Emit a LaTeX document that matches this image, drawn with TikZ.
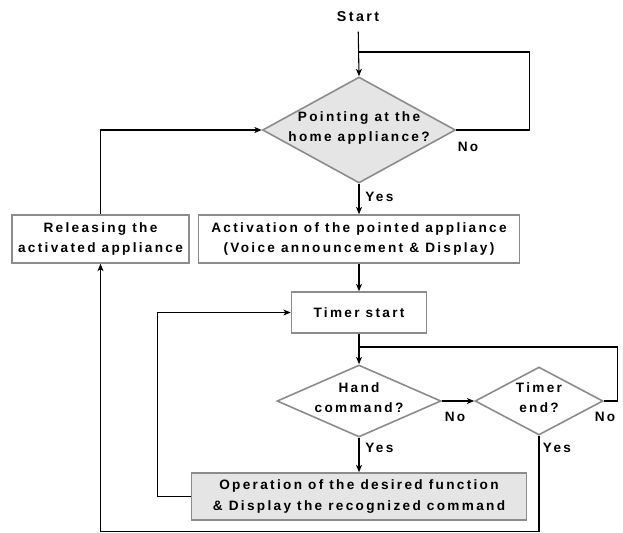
\documentclass[tikz,border=0pt]{standalone}
\usepackage{fontspec}
\newfontfamily\chartfont[LetterSpace=17]{Liberation Sans}
\usetikzlibrary{shapes.geometric,arrows.meta}

\tikzset{
  txt/.style={font=\chartfont\bfseries\fontsize{10.2}{15.5}\selectfont, align=center, inner sep=0pt, text=black},
  stepbox/.style={txt, draw=black!45, line width=1.2pt, fill=white},
  graybox/.style={stepbox, fill=gray!20},
  decision/.style={diamond, draw=black!45, line width=1.2pt, fill=gray!20, inner sep=0pt},
  opendecision/.style={decision, fill=white},
  wire/.style={draw=black, line width=0.8pt},
  flow/.style={wire, -{Stealth[length=5.5pt,width=4.5pt,inset=1.5pt]}},
}

\begin{document}
\begin{tikzpicture}[x=0.75pt,y=-0.75pt]
\useasboundingbox (0,0) rectangle (623,532);

% nodes
\node[txt, font=\chartfont\bfseries\fontsize{10.7}{13}\selectfont] (start) at (358,17) {Start};

\node[decision, minimum width=193*0.75pt, minimum height=106*0.75pt] (d1) at (359,130) {};
\node[txt] (d1t) at (359,128) {Pointing at the\\home appliance?};

\node[stepbox, minimum width=177*0.75pt, minimum height=48*0.75pt] (rel) at (100.5,239) {Releasing the\\activated appliance};
\node[stepbox, minimum width=321*0.75pt, minimum height=48*0.75pt] (act) at (359,239) {Activation of the pointed appliance\\(Voice announcement \& Display)};

\node[stepbox, minimum width=135*0.75pt, minimum height=41*0.75pt] (tmr) at (359,312.5) {Timer start};

\node[opendecision, minimum width=164*0.75pt, minimum height=72*0.75pt] (hand) at (359,401) {};
\node[txt] (handt) at (359,397.5) {Hand\\command?};

\node[opendecision, minimum width=128*0.75pt, minimum height=68*0.75pt] (tend) at (539,401) {};
\node[txt] (tendt) at (539,397.5) {Timer\\end?};

\node[graybox, minimum width=335*0.75pt, minimum height=47*0.75pt] (op) at (359,496.5) {Operation of the desired function\\\& Display the recognized command};

% branch labels
\node[txt] (no1) at (468,147) {No};
\node[txt, anchor=west] (yes1) at (365,197) {Yes};
\node[txt] (no2) at (455,417) {No};
\node[txt] (no3) at (605,417) {No};
\node[txt, anchor=west] (yes2) at (365,448) {Yes};
\node[txt] (yes3) at (557,448) {Yes};

% junctions on the vertical main line
\coordinate (j1) at (359,52);
\coordinate (j2) at (359,347);

% connectors
\draw[flow, shorten <=7pt] (start) -- (d1.north);
\draw[wire] (d1.east) -- ++(73,0) |- (j1);
\draw[flow] (d1.south) -- (act.north);
\draw[flow] (rel.north) |- (d1.west);
\draw[flow] (act.south) -- (tmr.north);
\draw[flow] (tmr.south) -- (hand.north);
\draw[wire] (tend.east) -- ++(14,0) |- (j2);
\draw[flow] (hand.east) -- (tend.west);
\draw[flow] (hand.south) -- (op.north);
\draw[flow] (op.west) -- ++(-33.5,0) |- (tmr.west);
\draw[flow] (tend.south) -- ++(0,96) -| (rel.south);
\end{tikzpicture}
\end{document}
